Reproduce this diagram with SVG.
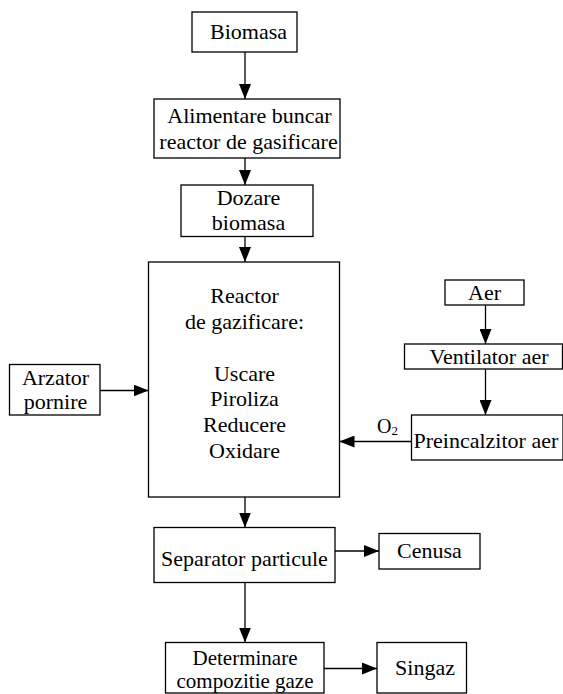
<svg xmlns="http://www.w3.org/2000/svg" width="563" height="694" viewBox="0 0 563 694">
<style>
  rect { fill: #fff; stroke: #000; stroke-width: 1.3; }
  text { font-family: "Liberation Serif", Tinos, "Times New Roman", "DejaVu Serif", serif; font-size: 22px; fill: #000; text-anchor: middle; }
  .c { fill: none; stroke: #000; stroke-width: 1.3; marker-end: url(#ah); }
</style>
<defs>
  <marker id="ah" markerUnits="userSpaceOnUse" viewBox="0 0 15 12" markerWidth="15" markerHeight="12" refX="15" refY="6" orient="auto">
    <path d="M0,0 L15,6 L0,12 z" fill="#000"/>
  </marker>
</defs>
<rect x="0" y="0" width="563" height="694" style="fill:#fff;stroke:none"/>
<g id="connectors">
  <line class="c" x1="245" y1="52" x2="245" y2="99"/>
  <line class="c" x1="245" y1="158" x2="245" y2="185"/>
  <line class="c" x1="245" y1="236.5" x2="245" y2="262"/>
  <line class="c" x1="100" y1="390.5" x2="148.5" y2="390.5"/>
  <line class="c" x1="485.5" y1="305" x2="485.5" y2="344"/>
  <line class="c" x1="485.5" y1="369" x2="485.5" y2="415"/>
  <line class="c" x1="411.5" y1="441.5" x2="339.5" y2="441.5"/>
  <line class="c" x1="245" y1="497" x2="245" y2="527.5"/>
  <line class="c" x1="335" y1="551" x2="379" y2="551"/>
  <line class="c" x1="245" y1="582.5" x2="245" y2="642.5"/>
  <line class="c" x1="324" y1="668.5" x2="377" y2="668.5"/>
  <text x="377" y="432.5" style="font-size:20px;text-anchor:start">O<tspan font-size="13" dy="2">2</tspan></text>
</g>
<g id="biomasa">
  <rect x="192" y="12" width="105" height="40"/>
  <text x="248.5" y="39">Biomasa</text>
</g>
<g id="alimentare">
  <rect x="154" y="99" width="186" height="59"/>
  <text x="249.5" y="123">Alimentare buncar</text>
  <text x="248.5" y="148.5">reactor de gasificare</text>
</g>
<g id="dozare">
  <rect x="181" y="185" width="132" height="51.5"/>
  <text x="248.5" y="205">Dozare</text>
  <text x="248.5" y="230">biomasa</text>
</g>
<g id="reactor">
  <rect x="148.5" y="262" width="191" height="235"/>
  <text x="244.5" y="303">Reactor</text>
  <text x="244.5" y="328.5">de gazificare:</text>
  <text x="244.5" y="380.5">Uscare</text>
  <text x="244.5" y="406">Piroliza</text>
  <text x="244.5" y="432">Reducere</text>
  <text x="244.5" y="458">Oxidare</text>
</g>
<g id="arzator">
  <rect x="9.5" y="364.5" width="90.5" height="50.5"/>
  <text x="55.5" y="385">Arzator</text>
  <text x="55.5" y="409">pornire</text>
</g>
<g id="aer">
  <rect x="445" y="280" width="79" height="25"/>
  <text x="484.5" y="300">Aer</text>
</g>
<g id="ventilator">
  <rect x="404.5" y="344" width="158" height="25"/>
  <text x="489" y="363.5">Ventilator aer</text>
</g>
<g id="preincalzitor">
  <rect x="411.5" y="415" width="151.5" height="45"/>
  <text x="413.5" y="448" style="text-anchor:start">Preincalzitor aer</text>
</g>
<g id="separator">
  <rect x="154" y="527.5" width="181" height="55"/>
  <text x="244.5" y="565.5">Separator particule</text>
</g>
<g id="cenusa">
  <rect x="379" y="533.5" width="101" height="35.5"/>
  <text x="429.5" y="558">Cenusa</text>
</g>
<g id="determinare">
  <rect x="165.5" y="642.5" width="158.5" height="50.5"/>
  <text x="245" y="664.5" style="font-size:21px">Determinare</text>
  <text x="245" y="687.5" style="font-size:21px">compozitie gaze</text>
</g>
<g id="singaz">
  <rect x="377" y="642.5" width="89.5" height="50.5"/>
  <text x="425" y="675">Singaz</text>
</g>
</svg>
